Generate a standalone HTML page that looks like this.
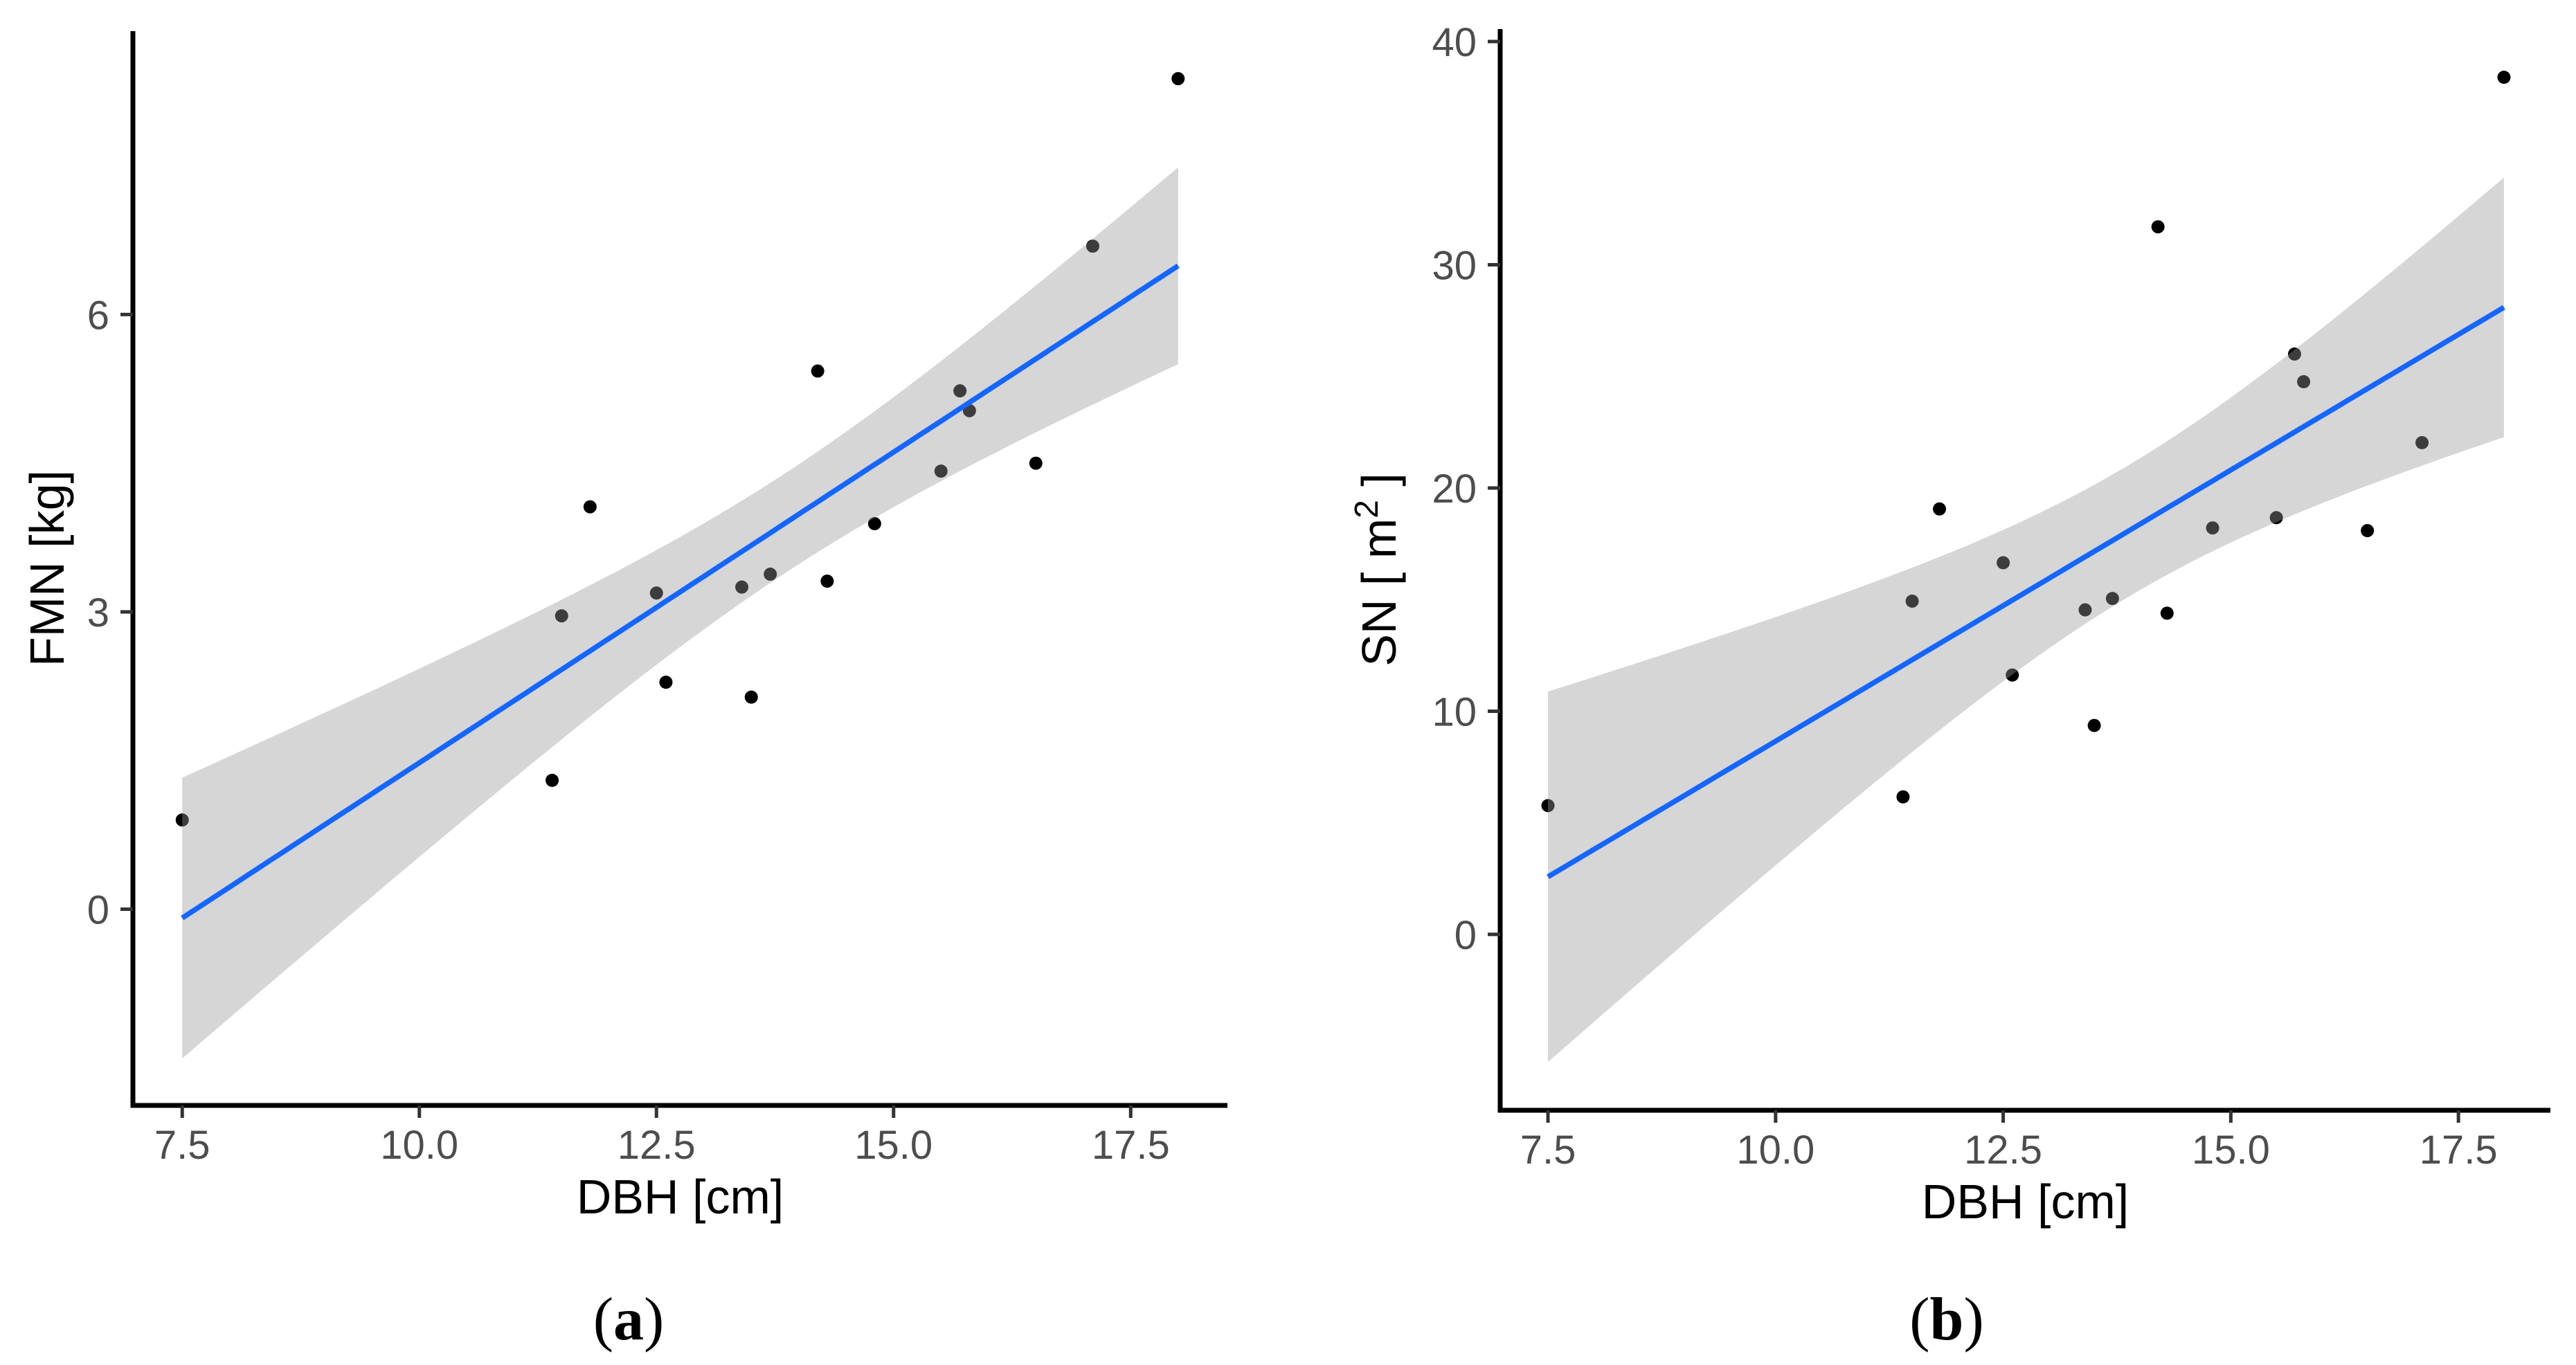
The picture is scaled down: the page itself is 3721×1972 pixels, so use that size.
<!DOCTYPE html>
<html><head><meta charset="utf-8">
<style>
html,body{margin:0;padding:0;background:#fff;}
svg{display:block;}
text{font-family:"Liberation Sans",sans-serif;}
</style></head>
<body>
<svg id="chart" width="3721" height="1972" viewBox="0 0 3721 1972" xmlns="http://www.w3.org/2000/svg"></svg>
<script>
const dbh = [7.5,11.4,11.5,11.8,12.5,12.6,13.4,13.5,13.7,14.2,14.3,14.8,15.5,15.7,15.8,16.5,17.1,18.0];
const fmnValues = [0.90,1.30,2.96,4.06,3.19,2.29,3.25,2.14,3.38,5.43,3.31,3.89,4.42,5.23,5.03,4.50,6.69,8.38];
const snValues = [5.77,6.16,14.93,19.06,16.65,11.62,14.54,9.36,15.05,31.70,14.39,18.21,18.67,26.00,24.76,18.09,22.03,38.40];
const xTickValues = [7.5,10,12.5,15,17.5];
const xTickLabels = ["7.5","10.0","12.5","15.0","17.5"];
const fmnTickValues = [0,3,6];
const fmnTickLabels = ["0","3","6"];
const snTickValues = [0,10,20,30,40];
const snTickLabels = ["0","10","20","30","40"];

const svg = document.getElementById('chart');
const NS = 'http://www.w3.org/2000/svg';
function mk(tag, attrs, parent){
  const e = document.createElementNS(NS, tag);
  for (const k in attrs) e.setAttribute(k, attrs[k]);
  (parent||svg).appendChild(e);
  return e;
}
function fit(xs, ys){
  const n = xs.length;
  const mx = xs.reduce((a,b)=>a+b,0)/n, my = ys.reduce((a,b)=>a+b,0)/n;
  let sxx=0, sxy=0;
  for (let i=0;i<n;i++){ sxx+=(xs[i]-mx)**2; sxy+=(xs[i]-mx)*(ys[i]-my); }
  const b = sxy/sxx, a = my-b*mx;
  let sse=0;
  for (let i=0;i<n;i++) sse += (ys[i]-a-b*xs[i])**2;
  const s = Math.sqrt(sse/(n-2));
  return {a,b,s,n,mx,sxx};
}
function panel(p){
  const g = mk('g', {});
  
  
  const X = v => p.px0 + (v - p.xd0)/(p.xd1 - p.xd0)*(p.px1 - p.px0);
  const Y = v => p.py0 + (v - p.yd0)/(p.yd1 - p.yd0)*(p.py1 - p.py0);
  for (let i=0;i<dbh.length;i++){
    const c = mk('circle', {cx:X(dbh[i]), cy:Y(p.ys[i]), r:9.5, fill:'#000'}, g);
    
    
  }
  const f = fit(dbh, p.ys);
  const t = 2.12;
  const xmin = Math.min(...dbh), xmax = Math.max(...dbh);
  const N = 80; let up=[], lo=[], ln=[];
  for (let k=0;k<=N;k++){
    const x = xmin + (xmax-xmin)*k/N;
    const yh = f.a + f.b*x;
    const se = f.s*Math.sqrt(1/f.n + (x-f.mx)**2/f.sxx);
    up.push(X(x).toFixed(1)+','+Y(yh+t*se).toFixed(1));
    lo.unshift(X(x).toFixed(1)+','+Y(yh-t*se).toFixed(1));
    ln.push(X(x).toFixed(1)+','+Y(yh).toFixed(1));
  }
  const band = mk('polygon', {points: up.concat(lo).join(' '), fill:'#999999', 'fill-opacity':0.4}, g);
  
  
  const line = mk('polyline', {points: ln.join(' '), fill:'none', stroke:'#1466FF', 'stroke-width':7.5}, g);
  
  
  const ya = mk('line', {x1:p.px0, y1:p.axTop, x2:p.px0, y2:p.py0+3.5, stroke:'#000', 'stroke-width':7}, g);
  
  
  const xa = mk('line', {x1:p.px0-3.5, y1:p.py0, x2:p.px1, y2:p.py0, stroke:'#000', 'stroke-width':7}, g);
  
  
  xTickValues.forEach((v,i)=>{
    const tk = mk('line', {x1:X(v), y1:p.py0, x2:X(v), y2:p.py0+18, stroke:'#333', 'stroke-width':5}, g);
    
    
    const tl = mk('text', {x:X(v), y:p.py0+77, 'text-anchor':'middle', 'font-size':58, fill:'#4D4D4D'}, g);
    
    
    tl.textContent = xTickLabels[i];
  });
  p.yTicks.forEach((v,i)=>{
    const tk = mk('line', {x1:p.px0-18, y1:Y(v), x2:p.px0, y2:Y(v), stroke:'#333', 'stroke-width':5}, g);
    
    
    const tl = mk('text', {x:p.px0-34, y:Y(v)+21, 'text-anchor':'end', 'font-size':58, fill:'#4D4D4D'}, g);
    
    
    tl.textContent = p.yTickLabels[i];
  });
  const xt = mk('text', {x:(p.px0+p.px1)/2, y:p.py0+156, 'text-anchor':'middle', 'font-size':70, fill:'#000'}, g);
  
  
  xt.textContent = 'DBH [cm]';
  const cy = (p.axTop+p.py0)/2;
  const yt = mk('text', {x:p.ytx, y:cy, 'text-anchor':'middle', 'font-size':70, fill:'#000', transform:`rotate(-90 ${p.ytx} ${cy})`}, g);
  
  
  yt.innerHTML = p.ytitle;
  const cap = mk('text', {x:p.capx, y:1935, 'text-anchor':'middle', 'font-size':88, fill:'#000', style:'font-family:"Liberation Serif",serif'}, g);
  
  
  cap.innerHTML = '(<tspan font-weight="bold">' + p.cap + '</tspan>)';
}
panel({name:'panel-a-fmn', ys:fmnValues, px0:192, px1:1773, xd0:6.98, xd1:18.52,
  py0:1597, py1:47.8, yd0:-1.98, yd1:8.84, axTop:45,
  yTicks:fmnTickValues, yTickLabels:fmnTickLabels, ytx:92, ytitle:'FMN [kg]', capx:908, cap:'a'});
panel({name:'panel-b-sn', ys:snValues, px0:2167, px1:3684, xd0:6.975, xd1:18.51,
  py0:1604, py1:42, yd0:-7.88, yd1:40.56, axTop:42,
  yTicks:snTickValues, yTickLabels:snTickLabels, ytx:2016, ytitle:'SN [ m<tspan dy="-26" font-size="48">2</tspan><tspan dy="26"> ]</tspan>', capx:2812, cap:'b'});
</script>
</body></html>
